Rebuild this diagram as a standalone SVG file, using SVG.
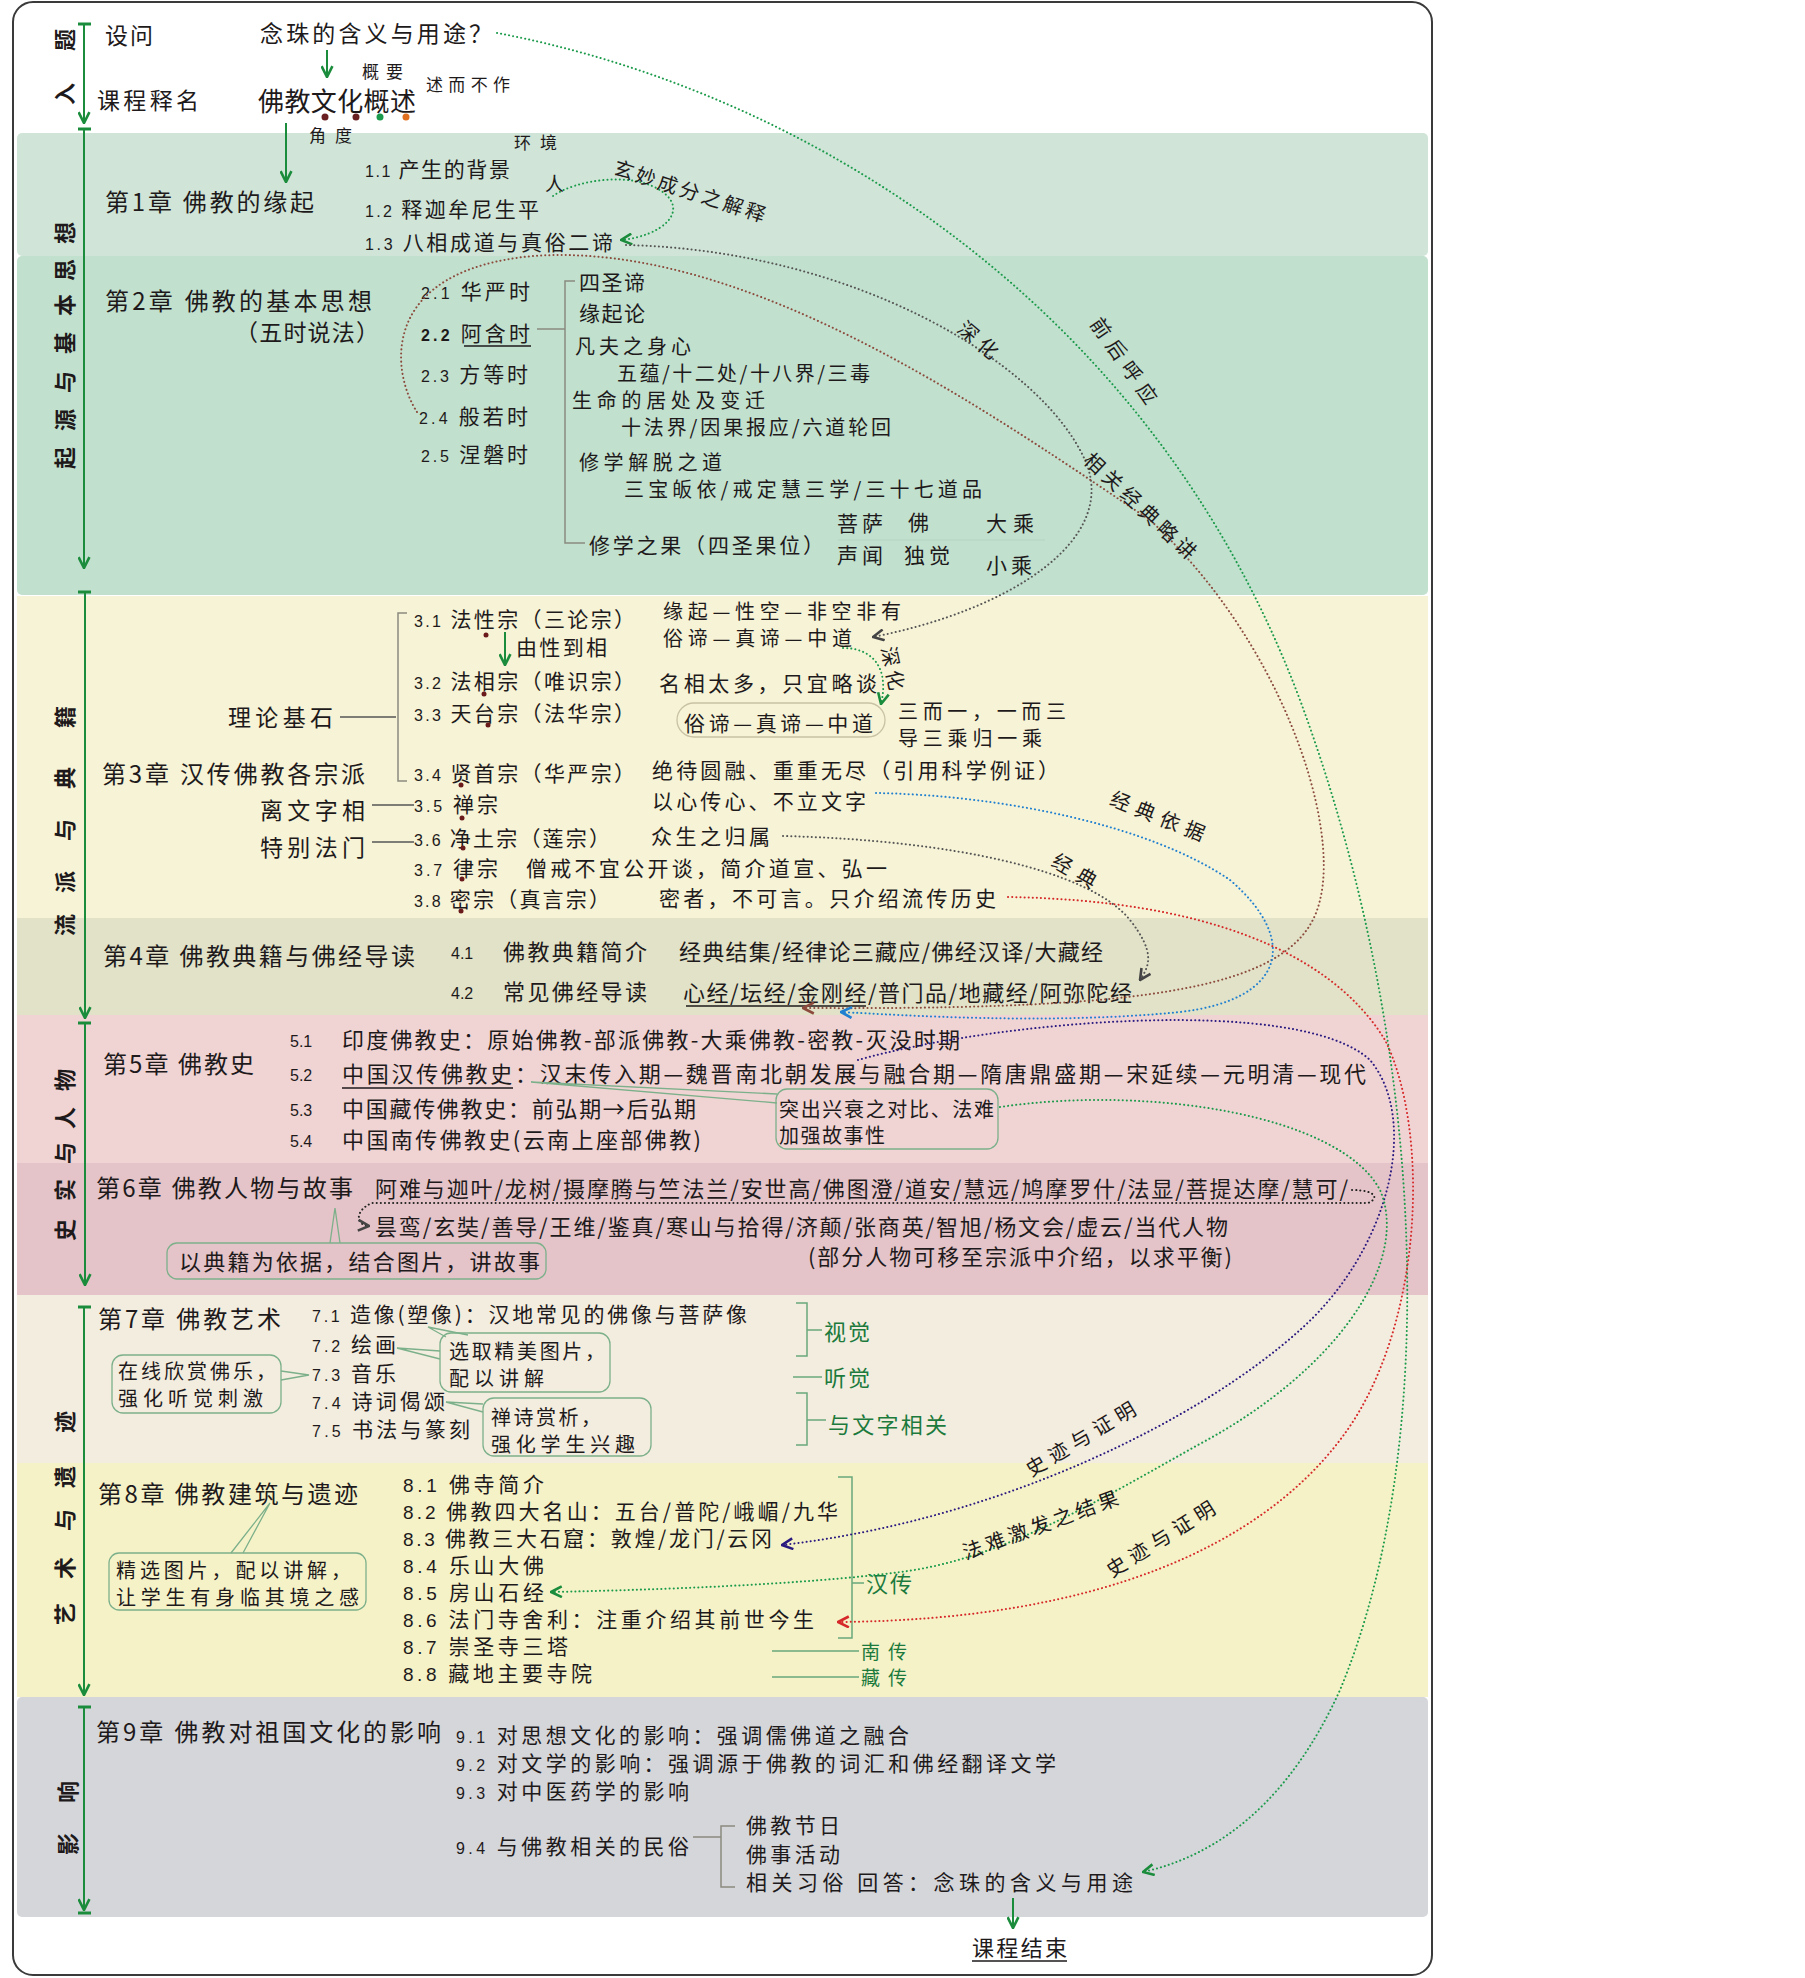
<svg xmlns="http://www.w3.org/2000/svg" width="1805" height="1978" viewBox="0 0 1805 1978">
<style>
text{font-family:"Noto Sans CJK SC","Noto Sans",sans-serif;fill:#1e1a1b}
.f17{font-size:17px}.f19{font-size:19px}.f20{font-size:20px}.f21{font-size:21px}.f22{font-size:22px}.f23{font-size:23px}.f24{font-size:24px}.f26{font-size:26px}
.num{font-family:"Liberation Sans",sans-serif;font-size:16px}
.num8{font-family:"Liberation Sans",sans-serif;font-size:19px}
.vl{font-size:22px;font-weight:700}
.g{fill:#1c7a3c}
.lbl{font-size:20px}
.ax{stroke:#1a8c3c;stroke-width:2;fill:none}
.tick{stroke:#1a8c3c;stroke-width:3}
.br{stroke:#8a8a80;stroke-width:1.5;fill:none}
.dk{stroke:#555;stroke-width:1.5;fill:none}
.gb{stroke:#6aa87c;stroke-width:1.5;fill:none}
.co{stroke:#7cb08a;stroke-width:1.3;fill:none}
.box{stroke:#7cb08a;stroke-width:1.3;fill:none}
.dot{fill:none;stroke-width:2;stroke-dasharray:0.1 4;stroke-linecap:round}
.ul{stroke:#1e1a1b;stroke-width:1.3}
</style>
<defs>
<marker id="aG" viewBox="0 0 12 12" refX="11" refY="6" markerWidth="13" markerHeight="13" markerUnits="userSpaceOnUse" orient="auto"><path d="M1,1 L11,6 L1,11" fill="none" stroke="#1a8c3c" stroke-width="2.4"/></marker>
<marker id="aK" viewBox="0 0 12 12" refX="11" refY="6" markerWidth="13" markerHeight="13" markerUnits="userSpaceOnUse" orient="auto"><path d="M1,1 L11,6 L1,11" fill="none" stroke="#444" stroke-width="2.4"/></marker>
<marker id="aB" viewBox="0 0 12 12" refX="11" refY="6" markerWidth="13" markerHeight="13" markerUnits="userSpaceOnUse" orient="auto"><path d="M1,1 L11,6 L1,11" fill="none" stroke="#8b4a3c" stroke-width="2.4"/></marker>
<marker id="aL" viewBox="0 0 12 12" refX="11" refY="6" markerWidth="13" markerHeight="13" markerUnits="userSpaceOnUse" orient="auto"><path d="M1,1 L11,6 L1,11" fill="none" stroke="#1f7fd0" stroke-width="2.4"/></marker>
<marker id="aR" viewBox="0 0 12 12" refX="11" refY="6" markerWidth="13" markerHeight="13" markerUnits="userSpaceOnUse" orient="auto"><path d="M1,1 L11,6 L1,11" fill="none" stroke="#d62828" stroke-width="2.4"/></marker>
<marker id="aP" viewBox="0 0 12 12" refX="11" refY="6" markerWidth="13" markerHeight="13" markerUnits="userSpaceOnUse" orient="auto"><path d="M1,1 L11,6 L1,11" fill="none" stroke="#2a1a80" stroke-width="2.4"/></marker>
</defs>
<rect x="0" y="0" width="1805" height="1978" fill="#fff"/>
<rect x="13" y="2" width="1419" height="1973" rx="20" fill="#fff" stroke="#3a3a3a" stroke-width="2"/>
<g id="bands">
<rect x="17" y="133" width="1411" height="123" rx="5" fill="#d0e5d8"/>
<rect x="17" y="256" width="1411" height="339" rx="5" fill="#c2e0ce"/>
<rect x="17" y="596" width="1411" height="322" fill="#f6f3d6"/>
<rect x="17" y="918" width="1411" height="97" fill="#e1e2c8"/>
<rect x="17" y="1015" width="1411" height="148" fill="#f0d4d4"/>
<rect x="17" y="1163" width="1411" height="132" fill="#e4c4c8"/>
<rect x="17" y="1295" width="1411" height="168" fill="#f3eddf"/>
<rect x="17" y="1463" width="1411" height="234" fill="#f5f2c8"/>
<rect x="17" y="1697" width="1411" height="220" rx="5" fill="#d5d6da"/>
</g>
<g id="section-labels">
<text class="vl" transform="translate(63,94) rotate(-90)" text-anchor="middle" dominant-baseline="central">入</text>
<text class="vl" transform="translate(63,40) rotate(-90)" text-anchor="middle" dominant-baseline="central">题</text>
<text class="vl" transform="translate(63,458) rotate(-90)" text-anchor="middle" dominant-baseline="central">起</text>
<text class="vl" transform="translate(63,420) rotate(-90)" text-anchor="middle" dominant-baseline="central">源</text>
<text class="vl" transform="translate(63,382) rotate(-90)" text-anchor="middle" dominant-baseline="central">与</text>
<text class="vl" transform="translate(63,343) rotate(-90)" text-anchor="middle" dominant-baseline="central">基</text>
<text class="vl" transform="translate(63,305) rotate(-90)" text-anchor="middle" dominant-baseline="central">本</text>
<text class="vl" transform="translate(63,270) rotate(-90)" text-anchor="middle" dominant-baseline="central">思</text>
<text class="vl" transform="translate(63,233) rotate(-90)" text-anchor="middle" dominant-baseline="central">想</text>
<text class="vl" transform="translate(63,925) rotate(-90)" text-anchor="middle" dominant-baseline="central">流</text>
<text class="vl" transform="translate(63,882) rotate(-90)" text-anchor="middle" dominant-baseline="central">派</text>
<text class="vl" transform="translate(63,830) rotate(-90)" text-anchor="middle" dominant-baseline="central">与</text>
<text class="vl" transform="translate(63,778) rotate(-90)" text-anchor="middle" dominant-baseline="central">典</text>
<text class="vl" transform="translate(63,717) rotate(-90)" text-anchor="middle" dominant-baseline="central">籍</text>
<text class="vl" transform="translate(63,1230) rotate(-90)" text-anchor="middle" dominant-baseline="central">史</text>
<text class="vl" transform="translate(63,1190) rotate(-90)" text-anchor="middle" dominant-baseline="central">实</text>
<text class="vl" transform="translate(63,1153) rotate(-90)" text-anchor="middle" dominant-baseline="central">与</text>
<text class="vl" transform="translate(63,1118) rotate(-90)" text-anchor="middle" dominant-baseline="central">人</text>
<text class="vl" transform="translate(63,1080) rotate(-90)" text-anchor="middle" dominant-baseline="central">物</text>
<text class="vl" transform="translate(63,1614) rotate(-90)" text-anchor="middle" dominant-baseline="central">艺</text>
<text class="vl" transform="translate(63,1568) rotate(-90)" text-anchor="middle" dominant-baseline="central">术</text>
<text class="vl" transform="translate(63,1520) rotate(-90)" text-anchor="middle" dominant-baseline="central">与</text>
<text class="vl" transform="translate(63,1477) rotate(-90)" text-anchor="middle" dominant-baseline="central">遗</text>
<text class="vl" transform="translate(63,1422) rotate(-90)" text-anchor="middle" dominant-baseline="central">迹</text>
<text class="vl" transform="translate(66,1844) rotate(-90)" text-anchor="middle" dominant-baseline="central">影</text>
<text class="vl" transform="translate(66,1792) rotate(-90)" text-anchor="middle" dominant-baseline="central">响</text>
</g>
<g id="axes">
<line class="tick" x1="78" y1="24" x2="91" y2="24"/><line class="ax" x1="84" y1="24" x2="84" y2="123" marker-end="url(#aG)"/>
<line class="tick" x1="78" y1="129" x2="91" y2="129"/><line class="ax" x1="84" y1="129" x2="84" y2="568" marker-end="url(#aG)"/>
<line class="tick" x1="78" y1="592" x2="91" y2="592"/><line class="ax" x1="85" y1="592" x2="85" y2="1018" marker-end="url(#aG)"/>
<line class="tick" x1="78" y1="1023" x2="91" y2="1023"/><line class="ax" x1="85" y1="1023" x2="85" y2="1285" marker-end="url(#aG)"/>
<line class="tick" x1="78" y1="1307" x2="91" y2="1307"/><line class="ax" x1="84" y1="1307" x2="84" y2="1695" marker-end="url(#aG)"/>
<line class="tick" x1="78" y1="1707" x2="91" y2="1707"/><line class="ax" x1="84" y1="1707" x2="84" y2="1910" marker-end="url(#aG)"/>
<line class="tick" x1="78" y1="1913" x2="91" y2="1913"/>
</g>
<g id="intro">
<text x="105" y="44" class="f23" textLength="48">设问</text>
<text x="97" y="109" class="f23" textLength="102">课程释名</text>
<text x="260" y="42" class="f23" textLength="232">念珠的含义与用途？</text>
<text x="258" y="111" class="f26" textLength="158">佛教文化概述</text>
<text x="362" y="78" class="f17" textLength="41">概要</text>
<text x="426" y="91" class="f17" textLength="84">述而不作</text>
<text x="309" y="142" class="f17" textLength="43">角度</text>
<circle cx="325" cy="117" r="3.5" fill="#6a2020"/><circle cx="356" cy="117" r="3.5" fill="#6a2020"/><circle cx="380" cy="117" r="3.5" fill="#1a9a4a"/><circle cx="406" cy="117" r="3.5" fill="#e07020"/>
<line class="ax" x1="327" y1="50" x2="327" y2="77" marker-end="url(#aG)"/>
<line class="ax" x1="286" y1="123" x2="286" y2="182" marker-end="url(#aG)"/>
</g>
<g id="ch1">
<text x="105" y="211" class="f24" textLength="209">第1章  佛教的缘起</text>
<text x="514" y="149" class="f17" textLength="43">环境</text>
<text x="545" y="191" class="f19">人</text>
<text x="365" y="177" class="f21" textLength="145"><tspan class="num">1.1</tspan> 产生的背景</text>
<text x="365" y="217" class="f21" textLength="174"><tspan class="num">1.2</tspan> 释迦牟尼生平</text>
<text x="365" y="250" class="f21" textLength="248"><tspan class="num">1.3</tspan> 八相成道与真俗二谛</text>
</g>
<g id="ch2">
<text x="105" y="310" class="f24" textLength="267">第2章  佛教的基本思想</text>
<text x="235" y="341" class="f23" textLength="144">（五时说法）</text>
<text x="421" y="299" class="f21" textLength="109"><tspan class="num">2.1</tspan> 华严时</text>
<text x="421" y="341" class="f21" textLength="109"><tspan class="num" font-weight="700">2.2</tspan> 阿含时</text>
<line class="ul" x1="464" y1="346" x2="531" y2="346"/>
<text x="421" y="382" class="f21" textLength="107"><tspan class="num">2.3</tspan> 方等时</text>
<text x="419" y="424" class="f21" textLength="109"><tspan class="num">2.4</tspan> 般若时</text>
<text x="421" y="462" class="f21" textLength="107"><tspan class="num">2.5</tspan> 涅磐时</text>
<path class="br" d="M537,329 H565 M575,281 H565 V543 H585"/>
<text x="579" y="290" class="f21" textLength="66">四圣谛</text>
<text x="579" y="321" class="f21" textLength="66">缘起论</text>
<text x="575" y="354" class="f20" textLength="116">凡夫之身心</text>
<text x="617" y="381" class="f20" textLength="253">五蕴/十二处/十八界/三毒</text>
<text x="572" y="408" class="f20" textLength="193">生命的居处及变迁</text>
<text x="621" y="435" class="f20" textLength="270">十法界/因果报应/六道轮回</text>
<text x="579" y="470" class="f20" textLength="143">修学解脱之道</text>
<text x="624" y="497" class="f20" textLength="358">三宝皈依/戒定慧三学/三十七道品</text>
<text x="589" y="553" class="f21" textLength="235">修学之果（四圣果位）</text>
<text x="837" y="531" class="f21" textLength="46">菩萨</text>
<text x="908" y="530" class="f21">佛</text>
<text x="986" y="531" class="f21" textLength="48">大乘</text>
<line x1="838" y1="540" x2="1045" y2="540" stroke="#b4d4c0" stroke-width="1"/>
<text x="837" y="563" class="f21" textLength="46">声闻</text>
<text x="904" y="563" class="f21" textLength="46">独觉</text>
<text x="986" y="573" class="f21" textLength="46">小乘</text>
</g>
<g id="ch3">
<text x="414" y="627" class="f21" textLength="221"><tspan class="num">3.1</tspan> 法性宗（三论宗）</text>
<text x="516" y="655" class="f21" textLength="91">由性到相</text>
<line class="ax" x1="505" y1="632" x2="505" y2="665" marker-end="url(#aG)"/>
<text x="414" y="689" class="f21" textLength="221"><tspan class="num">3.2</tspan> 法相宗（唯识宗）</text>
<text x="414" y="721" class="f21" textLength="221"><tspan class="num">3.3</tspan> 天台宗（法华宗）</text>
<text x="663" y="619" class="f20" textLength="238">缘起—性空—非空非有</text>
<text x="663" y="646" class="f20" textLength="189">俗谛—真谛—中道</text>
<text x="659" y="691" class="f21" textLength="218">名相太多，只宜略谈</text>
<rect x="677" y="703" width="208" height="34" rx="17" fill="none" stroke="#c9c2a4" stroke-width="1.3"/>
<text x="684" y="731" class="f21" textLength="189">俗谛—真谛—中道</text>
<text x="898" y="719" class="f20" textLength="168">三而一，一而三</text>
<text x="898" y="746" class="f20" textLength="144">导三乘归一乘</text>
<text x="228" y="726" class="f23" textLength="105">理论基石</text>
<path class="dk" d="M340,717 H396"/>
<path class="br" d="M407,613 H398 V781 H407"/>
<text x="102" y="783" class="f24" textLength="263">第3章  汉传佛教各宗派</text>
<text x="414" y="781" class="f21" textLength="221"><tspan class="num">3.4</tspan> 贤首宗（华严宗）</text>
<text x="652" y="778" class="f21" textLength="407">绝待圆融、重重无尽（引用科学例证）</text>
<text x="260" y="819" class="f23" textLength="105">离文字相</text>
<path class="dk" d="M372,805 H414"/>
<text x="414" y="812" class="f21" textLength="84"><tspan class="num">3.5</tspan> 禅宗</text>
<text x="652" y="809" class="f21" textLength="214">以心传心、不立文字</text>
<text x="260" y="856" class="f23" textLength="105">特别法门</text>
<path class="dk" d="M372,842 H414"/>
<text x="414" y="846" class="f21" textLength="196"><tspan class="num">3.6</tspan> 净土宗（莲宗）</text>
<text x="651" y="844" class="f21" textLength="119">众生之归属</text>
<text x="414" y="876" class="f21" textLength="84"><tspan class="num">3.7</tspan> 律宗</text>
<text x="526" y="876" class="f21" textLength="361">僧戒不宜公开谈，简介道宣、弘一</text>
<text x="414" y="907" class="f21" textLength="196"><tspan class="num">3.8</tspan> 密宗（真言宗）</text>
<text x="659" y="906" class="f21" textLength="337">密者，不可言。只介绍流传历史</text>
<g fill="#6a1a1a"><circle cx="486" cy="635" r="2.5"/><circle cx="484" cy="694" r="2.5"/><circle cx="488" cy="725" r="2.5"/><circle cx="461" cy="785" r="2.5"/><circle cx="462" cy="818" r="2.5"/><circle cx="463" cy="848" r="2.5"/><circle cx="462" cy="879" r="2.5"/><circle cx="461" cy="911" r="2.5"/></g>
</g>
<g id="ch4">
<text x="103" y="965" class="f24" textLength="312">第4章 佛教典籍与佛经导读</text>
<text x="451" y="959" class="num">4.1</text>
<text x="503" y="960" class="f22" textLength="144">佛教典籍简介</text>
<text x="679" y="960" class="f22" textLength="424">经典结集/经律论三藏应/佛经汉译/大藏经</text>
<text x="451" y="999" class="num">4.2</text>
<text x="503" y="1000" class="f22" textLength="144">常见佛经导读</text>
<text x="683" y="1001" class="f22" textLength="449">心经/坛经/金刚经/普门品/地藏经/阿弥陀经</text>
<line class="ul" x1="686" y1="1006" x2="866" y2="1006" stroke="#6a6a6a"/>
</g>
<g id="ch5">
<text x="103" y="1073" class="f24" textLength="151">第5章 佛教史</text>
<text x="290" y="1047" class="num">5.1</text>
<text x="342" y="1048" class="f22" textLength="618">印度佛教史：原始佛教-部派佛教-大乘佛教-密教-灭没时期</text>
<text x="290" y="1081" class="num">5.2</text>
<text x="342" y="1082" class="f22" textLength="1024">中国汉传佛教史：汉末传入期—魏晋南北朝发展与融合期—隋唐鼎盛期—宋延续—元明清—现代</text>
<line class="ul" x1="342" y1="1088" x2="513" y2="1088"/>
<text x="290" y="1116" class="num">5.3</text>
<text x="342" y="1117" class="f22" textLength="354">中国藏传佛教史：前弘期→后弘期</text>
<text x="290" y="1147" class="num">5.4</text>
<text x="342" y="1148" class="f22" textLength="359">中国南传佛教史(云南上座部佛教)</text>
<rect class="box" x="776" y="1089" width="222" height="60" rx="11"/>
<polyline class="co" points="777,1094 531,1082 777,1103"/>
<text x="779" y="1117" class="f20" textLength="215">突出兴衰之对比、法难</text>
<text x="779" y="1143" class="f20" textLength="106">加强故事性</text>
</g>
<g id="ch6">
<text x="96" y="1197" class="f24" textLength="257">第6章 佛教人物与故事</text>
<text x="375" y="1197" class="f22" textLength="973">阿难与迦叶/龙树/摄摩腾与竺法兰/安世高/佛图澄/道安/慧远/鸠摩罗什/法显/菩提达摩/慧可/</text>
<text x="375" y="1235" class="f22" textLength="853">昙鸾/玄奘/善导/王维/鉴真/寒山与拾得/济颠/张商英/智旭/杨文会/虚云/当代人物</text>
<text x="808" y="1265" class="f22" textLength="424">(部分人物可移至宗派中介绍，以求平衡)</text>
<rect class="box" x="167" y="1243" width="379" height="36" rx="10"/>
<polyline class="co" points="330,1243 335,1208 340,1243"/>
<text x="179" y="1270" class="f22" textLength="361">以典籍为依据，结合图片，讲故事</text>
</g>
<g id="ch7">
<text x="98" y="1328" class="f24" textLength="183">第7章  佛教艺术</text>
<text x="312" y="1322" class="f21" textLength="435"><tspan class="num">7.1</tspan> 造像(塑像)：汉地常见的佛像与菩萨像</text>
<text x="312" y="1352" class="f21" textLength="84"><tspan class="num">7.2</tspan> 绘画</text>
<text x="312" y="1381" class="f21" textLength="84"><tspan class="num">7.3</tspan> 音乐</text>
<text x="312" y="1409" class="f21" textLength="133"><tspan class="num">7.4</tspan> 诗词偈颂</text>
<text x="312" y="1437" class="f21" textLength="158"><tspan class="num">7.5</tspan> 书法与篆刻</text>
<rect class="box" x="440" y="1333" width="170" height="59" rx="11"/>
<polyline class="co" points="446,1337 428,1327 468,1335"/>
<polyline class="co" points="440,1351 397,1348 440,1359"/>
<text x="449" y="1359" class="f20" textLength="156">选取精美图片，</text>
<text x="449" y="1386" class="f20" textLength="95">配以讲解</text>
<rect class="box" x="112" y="1355" width="169" height="58" rx="11"/>
<polyline class="co" points="281,1371 309,1375 281,1380"/>
<text x="118" y="1379" class="f20" textLength="158">在线欣赏佛乐，</text>
<text x="118" y="1406" class="f20" textLength="145">强化听觉刺激</text>
<rect class="box" x="483" y="1398" width="168" height="58" rx="11"/>
<polyline class="co" points="483,1404 446,1402 483,1412"/>
<text x="491" y="1425" class="f20" textLength="110">禅诗赏析，</text>
<text x="491" y="1452" class="f20" textLength="144">强化学生兴趣</text>
<path class="gb" d="M796,1303 H807 V1356 H796 M807,1330 H822"/>
<text x="824" y="1340" class="f22 g" textLength="46">视觉</text>
<path class="gb" d="M793,1377 H822"/>
<text x="824" y="1386" class="f22 g" textLength="46">听觉</text>
<path class="gb" d="M796,1393 H807 V1445 H796 M807,1420 H826"/>
<text x="828" y="1433" class="f22 g" textLength="119">与文字相关</text>
</g>
<g id="ch8">
<text x="98" y="1503" class="f24" textLength="260">第8章  佛教建筑与遗迹</text>
<text x="403" y="1492" class="f21" textLength="141"><tspan class="num8">8.1</tspan> 佛寺简介</text>
<text x="403" y="1519" class="f21" textLength="435"><tspan class="num8">8.2</tspan> 佛教四大名山：五台/普陀/峨嵋/九华</text>
<text x="403" y="1546" class="f21" textLength="369"><tspan class="num8">8.3</tspan> 佛教三大石窟：敦煌/龙门/云冈</text>
<text x="403" y="1573" class="f21" textLength="141"><tspan class="num8">8.4</tspan> 乐山大佛</text>
<text x="403" y="1600" class="f21" textLength="141"><tspan class="num8">8.5</tspan> 房山石经</text>
<text x="403" y="1627" class="f21" textLength="411"><tspan class="num8">8.6</tspan> 法门寺舍利：注重介绍其前世今生</text>
<text x="403" y="1654" class="f21" textLength="165"><tspan class="num8">8.7</tspan> 崇圣寺三塔</text>
<text x="403" y="1681" class="f21" textLength="189"><tspan class="num8">8.8</tspan> 藏地主要寺院</text>
<path class="gb" d="M838,1477 H852 V1638 H838 M852,1583 H864"/>
<text x="866" y="1592" class="f22 g" textLength="46">汉传</text>
<path class="gb" d="M772,1651 H859 M772,1677 H859"/>
<text x="861" y="1659" class="f19 g" textLength="46">南传</text>
<text x="861" y="1685" class="f19 g" textLength="46">藏传</text>
<rect class="box" x="109" y="1553" width="257" height="57" rx="10"/>
<polyline class="co" points="231,1553 270,1503 243,1553"/>
<text x="116" y="1578" class="f20" textLength="235">精选图片，配以讲解，</text>
<text x="116" y="1605" class="f20" textLength="243">让学生有身临其境之感</text>
</g>
<g id="ch9">
<text x="96" y="1741" class="f24" textLength="345">第9章  佛教对祖国文化的影响</text>
<text x="456" y="1743" class="f21" textLength="453"><tspan class="num">9.1</tspan> 对思想文化的影响：强调儒佛道之融合</text>
<text x="456" y="1771" class="f21" textLength="600"><tspan class="num">9.2</tspan> 对文学的影响：强调源于佛教的词汇和佛经翻译文学</text>
<text x="456" y="1799" class="f21" textLength="233"><tspan class="num">9.3</tspan> 对中医药学的影响</text>
<text x="456" y="1854" class="f21" textLength="233"><tspan class="num">9.4</tspan> 与佛教相关的民俗</text>
<path class="br" d="M693,1837 H721 M735,1826 H721 V1887 H735"/>
<text x="746" y="1833" class="f21" textLength="94">佛教节日</text>
<text x="746" y="1862" class="f21" textLength="94">佛事活动</text>
<text x="746" y="1890" class="f21" textLength="387">相关习俗 回答：念珠的含义与用途</text>
<line class="ax" x1="1013" y1="1898" x2="1013" y2="1928" marker-end="url(#aG)"/>
<text x="972" y="1956" class="f22" textLength="95">课程结束</text>
<line class="ul" x1="972" y1="1961" x2="1067" y2="1961"/>
</g>
<g id="connectors">
<path class="dot" stroke="#1a9a4a" d="M497,33 C800,90 1150,300 1300,700 C1430,1050 1440,1450 1340,1690 C1290,1800 1220,1855 1143,1872" marker-end="url(#aG)"/>
<path class="dot" stroke="#1a9a4a" d="M553,196 C575,180 635,170 664,193 C688,212 662,236 621,240" marker-end="url(#aG)"/>
<path class="dot" stroke="#555" d="M626,245 C850,250 1040,360 1085,460 C1120,540 1010,610 873,637" marker-end="url(#aK)"/>
<path class="dot" stroke="#8b4a3c" d="M417,412 C390,370 380,270 533,256 C750,240 1000,420 1150,520 C1280,640 1340,820 1320,900 C1300,990 1150,1010 803,1008" marker-end="url(#aB)"/>
<path class="dot" stroke="#1f7fd0" d="M876,793 C1000,795 1150,825 1230,880 C1300,940 1285,1000 1180,1012 C1050,1025 900,1015 841,1012" marker-end="url(#aL)"/>
<path class="dot" stroke="#555" d="M783,836 C950,840 1090,870 1130,920 C1155,952 1150,965 1140,980" marker-end="url(#aK)"/>
<path class="dot" stroke="#d62828" d="M1008,897 C1200,900 1330,950 1385,1040 C1430,1130 1425,1330 1340,1440 C1260,1545 1100,1620 838,1622" marker-end="url(#aR)"/>
<path class="dot" stroke="#2a1a80" d="M858,1060 C1000,1020 1300,995 1370,1060 C1420,1120 1390,1250 1300,1330 C1200,1420 1000,1520 782,1545" marker-end="url(#aP)"/>
<path class="dot" stroke="#1a9a4a" d="M1000,1107 C1150,1085 1340,1115 1380,1190 C1410,1260 1340,1370 1196,1446 C1100,1500 1000,1560 900,1572 C800,1585 650,1590 551,1592" marker-end="url(#aG)"/>
<path class="dot" stroke="#222" d="M1352,1190 C1375,1190 1380,1198 1368,1203 L372,1203 C355,1210 355,1225 369,1226" marker-end="url(#aK)"/>
<path class="dot" stroke="#1a9a4a" d="M843,648 C870,648 890,665 881,704" marker-end="url(#aG)"/>
<text class="lbl" transform="translate(690,190) rotate(18)" text-anchor="middle" dominant-baseline="central" textLength="158">玄妙成分之解释</text>
<text class="lbl" transform="translate(979,339) rotate(40)" text-anchor="middle" dominant-baseline="central" textLength="46">深化</text>
<text class="lbl" transform="translate(1125,360) rotate(55)" text-anchor="middle" dominant-baseline="central" textLength="100">前后呼应</text>
<text class="lbl" transform="translate(1141,505) rotate(43)" text-anchor="middle" dominant-baseline="central" textLength="145">相关经典略讲</text>
<text class="lbl" transform="translate(894,668) rotate(78)" text-anchor="middle" dominant-baseline="central" textLength="44">深化</text>
<text class="lbl" transform="translate(1158,815) rotate(22)" text-anchor="middle" dominant-baseline="central" textLength="100">经典依据</text>
<text class="lbl" transform="translate(1075,870) rotate(30)" text-anchor="middle" dominant-baseline="central" textLength="48">经典</text>
<text class="lbl" transform="translate(1080,1438) rotate(-31)" text-anchor="middle" dominant-baseline="central" textLength="124">史迹与证明</text>
<text class="lbl" transform="translate(1040,1524) rotate(-20)" text-anchor="middle" dominant-baseline="central" textLength="164">法难激发之结果</text>
<text class="lbl" transform="translate(1160,1538) rotate(-32)" text-anchor="middle" dominant-baseline="central" textLength="124">史迹与证明</text>
</g>
</svg>
